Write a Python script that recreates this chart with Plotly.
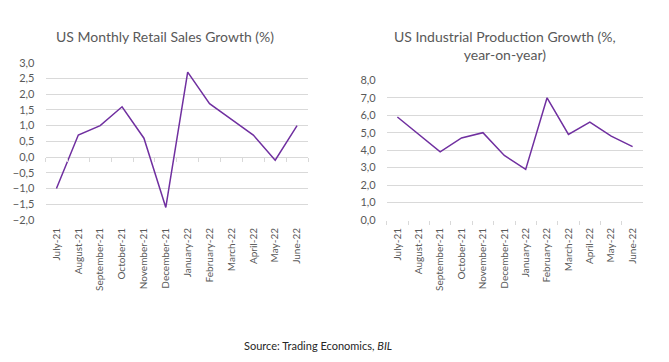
import plotly.graph_objects as go

months = ["July-21", "August-21", "September-21", "October-21", "November-21", "December-21",
          "January-22", "February-22", "March-22", "April-22", "May-22", "June-22"]
retail_growth = [-1.0, 0.7, 1.0, 1.6, 0.6, -1.6, 2.7, 1.7, 1.2, 0.7, -0.1, 1.0]
industrial_growth = [5.9, 4.9, 3.9, 4.7, 5.0, 3.7, 2.9, 7.0, 4.9, 5.6, 4.8, 4.2]

left_title = "US Monthly Retail Sales Growth (%)"
right_title = "US Industrial Production Growth (%,<br>year-on-year)"
source_text = "Source: Trading Economics, <i>BIL</i>"

W, H = 669, 362
OFF = 8  # page body margin
FONT = "Lato"
GRAY = "#595959"
GRID = "#d9d9d9"
PURPLE = "#7030a0"


def px(x):
    return (x - OFF) / W


def py(y):
    return 1 - (y - OFF) / H


# plot-area domains (paper fractions)
lx = [px(45.5), px(308)]
ly = [py(220), py(62.7)]
rx = [px(386.7), px(643.3)]
ry = [py(220), py(80.3)]
lrange = [-2, 3]
zero_pos = ly[0] + (ly[1] - ly[0]) * (0 - lrange[0]) / (lrange[1] - lrange[0])

fig = go.Figure()
fig.add_trace(go.Scatter(x=months, y=retail_growth, mode="lines",
                         line=dict(color=PURPLE, width=1.5), xaxis="x", yaxis="y",
                         showlegend=False))
# invisible trace so the zero-line tick axis has categories
fig.add_trace(go.Scatter(x=months, y=retail_growth, mode="lines", line=dict(width=0),
                         opacity=0, xaxis="x3", yaxis="y", showlegend=False, hoverinfo="skip"))
fig.add_trace(go.Scatter(x=months, y=industrial_growth, mode="lines",
                         line=dict(color=PURPLE, width=1.5), xaxis="x2", yaxis="y2",
                         showlegend=False))

xcommon = dict(type="category", categoryorder="array", categoryarray=months,
               range=[-0.5, 11.5], tickangle=-90, showgrid=False, zeroline=False,
               tickfont=dict(family=FONT, size=10, color=GRAY), automargin=False,
               showline=False, ticklabelstandoff=5)
ycommon = dict(showgrid=True, gridcolor=GRID, gridwidth=1, zeroline=False, showline=False,
               tickformat=".1f", tickfont=dict(family=FONT, size=11, color=GRAY),
               automargin=False, ticks="", ticklabelstandoff=10)

fig.update_layout(
    width=W, height=H,
    margin=dict(l=0, r=0, t=0, b=0),
    paper_bgcolor="white", plot_bgcolor="white",
    separators=", ",
    xaxis=dict(domain=lx, anchor="y", ticks="", **xcommon),
    xaxis3=dict(domain=lx, anchor="free", position=zero_pos, overlaying="x",
                type="category", categoryorder="array", categoryarray=months,
                range=[-0.5, 11.5], showticklabels=False, ticks="outside",
                tickson="boundaries", ticklen=4, tickcolor=GRID, showgrid=False,
                zeroline=False, showline=False),
    yaxis=dict(domain=ly, anchor="x", range=lrange, dtick=0.5, **ycommon),
    xaxis2=dict(domain=rx, anchor="y2", ticks="outside", tickson="boundaries",
                ticklen=4, tickcolor=GRID, **xcommon),
    yaxis2=dict(domain=ry, anchor="x2", range=[0, 8], dtick=1, **ycommon),
    annotations=[
        dict(text=left_title, x=px(165), y=py(37), xref="paper", yref="paper",
             showarrow=False, font=dict(family=FONT, size=14, color=GRAY),
             xanchor="center", yanchor="middle"),
        dict(text=right_title, x=px(505), y=py(46), xref="paper", yref="paper",
             showarrow=False, font=dict(family=FONT, size=14, color=GRAY),
             xanchor="center", yanchor="middle", align="center"),
        dict(text=source_text, x=px(318), y=py(345), xref="paper", yref="paper",
             showarrow=False, font=dict(family=FONT, size=11, color="#262626"),
             xanchor="center", yanchor="middle"),
    ],
)

fig.write_html("out.html")
